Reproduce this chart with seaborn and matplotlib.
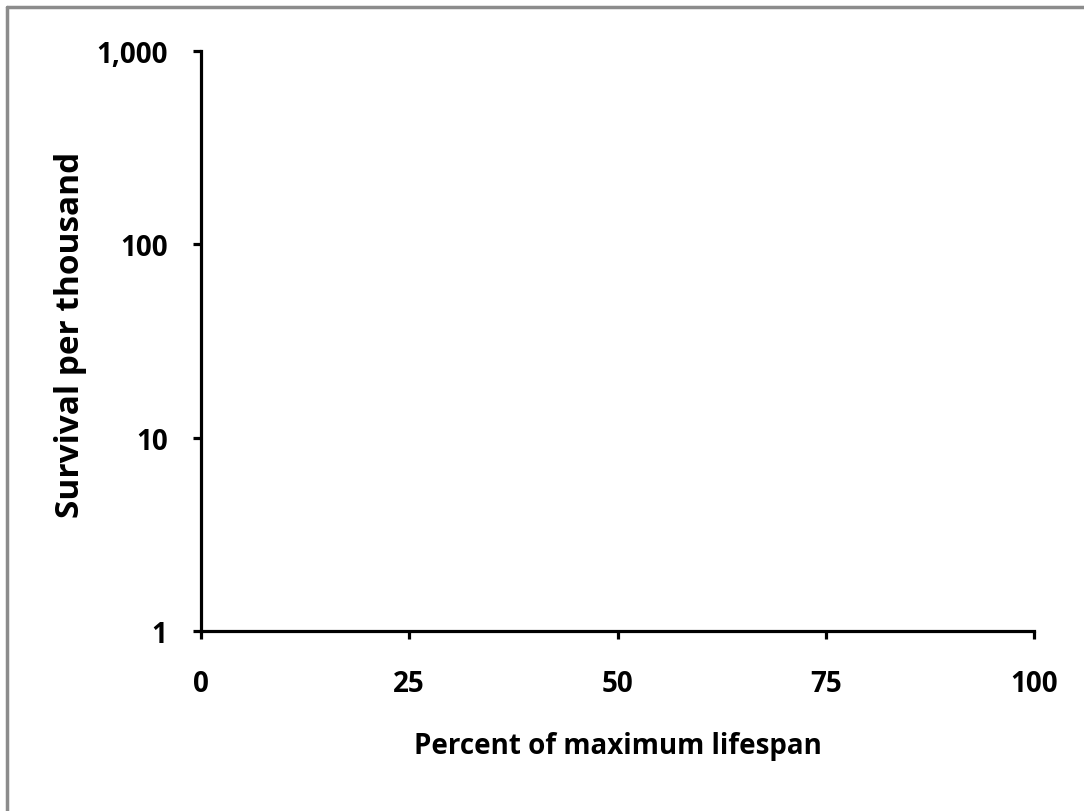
import matplotlib
matplotlib.use("Agg")
import matplotlib.pyplot as plt
import seaborn as sns
from matplotlib.lines import Line2D
from matplotlib.ticker import FixedLocator, NullLocator

x_ticks = [0, 25, 50, 75, 100]
x_tick_labels = ["0", "25", "50", "75", "100"]
y_ticks = [1, 10, 100, 1000]
y_tick_labels = ["1", "10", "100", "1,000"]
x_label = "Percent of maximum lifespan"
y_label = "Survival per thousand"

sns.set_style("white")
plt.rcParams['font.family'] = ['Open Sans', 'DejaVu Sans']

fig = plt.figure(figsize=(10.84, 8.12), dpi=100)
ax = fig.add_axes([201/1084, 1-632/812, (1034-201)/1084, (632-52)/812])

ax.set_yscale("log")
ax.set_xlim(x_ticks[0], x_ticks[-1])
ax.set_ylim(y_ticks[0], y_ticks[-1])
ax.xaxis.set_major_locator(FixedLocator(x_ticks))
ax.yaxis.set_major_locator(FixedLocator(y_ticks))
ax.yaxis.set_minor_locator(NullLocator())
ax.set_xticklabels(x_tick_labels)
ax.set_yticklabels(y_tick_labels)

for s in ["top", "right"]:
    ax.spines[s].set_visible(False)
for s in ["left", "bottom"]:
    ax.spines[s].set_linewidth(2.3)
    ax.spines[s].set_color("black")
    ax.spines[s].set_capstyle("projecting")

ax.tick_params(axis="both", which="major", direction="out", length=6, width=2.3,
               color="black", labelsize=20, labelcolor="black",
               bottom=True, left=True)
ax.tick_params(axis="y", pad=18)
ax.tick_params(axis="x", pad=21)
for lab in ax.get_xticklabels() + ax.get_yticklabels():
    lab.set_fontweight("bold")

ax.set_xlabel(x_label, fontsize=20, fontweight="bold", color="black")
ax.set_ylabel(y_label, fontsize=24, fontweight="bold", color="black")
ax.xaxis.set_label_coords(0.5, -0.172)
ax.yaxis.set_label_coords(-0.137, 0.513)

# outer frame (top and left edges visible)
fig.add_artist(Line2D([7/1084, 1], [1-8/812, 1-8/812], transform=fig.transFigure,
                      color="#8c8c8c", linewidth=2.5))
fig.add_artist(Line2D([7/1084, 7/1084], [0, 1-8/812], transform=fig.transFigure,
                      color="#8c8c8c", linewidth=2.5))

fig.savefig("out.png", dpi=100, facecolor="white")
